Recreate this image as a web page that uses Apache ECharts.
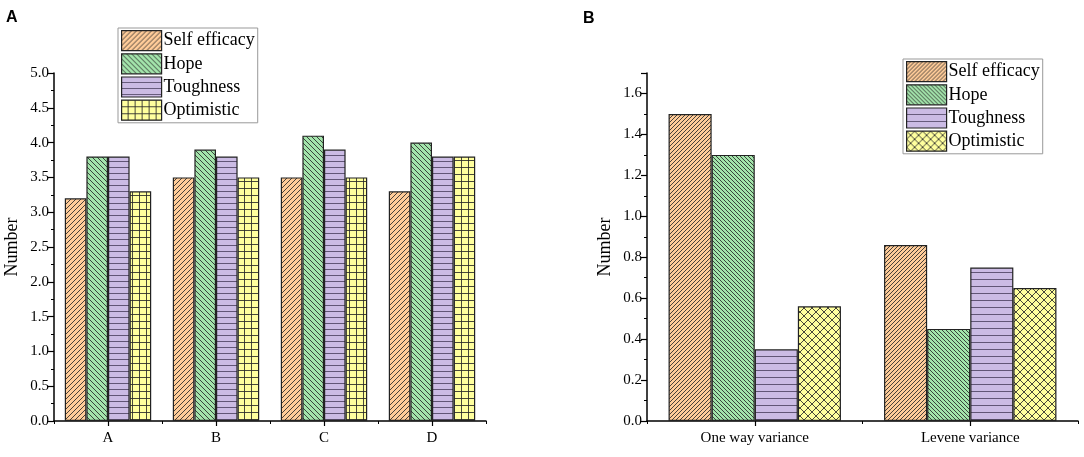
<!DOCTYPE html>
<html><head><meta charset="utf-8">
<script src="https://cdn.jsdelivr.net/npm/echarts@6/dist/echarts.min.js"></script>
<style>html,body{margin:0;padding:0;background:#fff}#c{width:1084px;height:457px}</style>
</head><body><div id="c"></div>
<script>
const seriesNames = ['Self efficacy', 'Hope', 'Toughness', 'Optimistic'];
const catsA = ['A', 'B', 'C', 'D'];
const selfA = [3.2, 3.5, 3.5, 3.3];
const hopeA = [3.8, 3.9, 4.1, 4.0];
const toughA = [3.8, 3.8, 3.9, 3.8];
const optA = [3.3, 3.5, 3.5, 3.8];
const catsB = ['One way variance', 'Levene variance'];
const selfB = [1.5, 0.86];
const hopeB = [1.3, 0.45];
const toughB = [0.35, 0.75];
const optB = [0.56, 0.65];
const ticksA = [0, 0.5, 1.0, 1.5, 2.0, 2.5, 3.0, 3.5, 4.0, 4.5, 5.0];
const ticksB = [0, 0.2, 0.4, 0.6, 0.8, 1.0, 1.2, 1.4, 1.6];

function tile(bg, s, draw) {
  const c = document.createElement('canvas');
  c.width = s; c.height = s;
  const g = c.getContext('2d');
  g.fillStyle = bg; g.fillRect(0, 0, s, s);
  g.strokeStyle = 'rgba(40,40,40,0.85)'; g.lineWidth = 1;
  draw(g, s);
  return { image: c, repeat: 'repeat' };
}
const fwd = (g, s) => { g.beginPath(); g.moveTo(-1, s + 1); g.lineTo(s + 1, -1); g.moveTo(-1, 1); g.lineTo(1, -1); g.moveTo(s - 1, s + 1); g.lineTo(s + 1, s - 1); g.stroke(); };
const back = (g, s) => { g.beginPath(); g.moveTo(-1, -1); g.lineTo(s + 1, s + 1); g.moveTo(s - 1, -1); g.lineTo(s + 1, 1); g.moveTo(-1, s - 1); g.lineTo(1, s + 1); g.stroke(); };
const horiz = (g, s) => { g.strokeStyle = 'rgba(70,60,90,0.8)'; g.beginPath(); g.moveTo(0, s - 0.5); g.lineTo(s, s - 0.5); g.stroke(); };
const grid = (g, s) => { g.beginPath(); g.moveTo(0, s - 0.5); g.lineTo(s, s - 0.5); g.moveTo(s - 0.5, 0); g.lineTo(s - 0.5, s); g.stroke(); };
const cross = (g, s) => { fwd(g, s); back(g, s); };

const OR = '#FFCC99', GR = '#A3E4AB', PU = '#CBBBE4', YE = '#FFFF9E';
const patA = [tile(OR, 5, fwd), tile(GR, 5, back), tile(PU, 6, horiz), tile(YE, 7, grid)];
const patB = [tile(OR, 4, fwd), tile(GR, 4, back), tile(PU, 7, horiz), tile(YE, 8, cross)];

const serif = 'Liberation Serif, Times New Roman, serif';
const chart = echarts.init(document.getElementById('c'));

function mkSeries(data, pats, xi) {
  return data.map((d, i) => ({
    type: 'bar', name: seriesNames[i], data: d, xAxisIndex: xi, yAxisIndex: xi,
    barGap: '0%', barCategoryGap: '20%',
    itemStyle: { color: pats[i], borderColor: '#222', borderWidth: 1.2 },
    emphasis: { disabled: true }
  }));
}
function legend(pats, left, top) {
  return {
    orient: 'vertical', left: left, top: top, itemWidth: 40, itemHeight: 20, itemGap: 2,
    padding: [2, 3, 2, 3], borderColor: '#999', borderWidth: 1, backgroundColor: '#fff',
    textStyle: { fontFamily: serif, fontSize: 18, color: '#000', padding: [0, 0, 0, -3] },
    selectedMode: false, icon: 'rect',
    data: seriesNames.map((n, i) => ({ name: n, itemStyle: { color: pats[i], borderColor: '#222', borderWidth: 1.2 } }))
  };
}
function yAx(gi, max, interval, ticks) {
  return {
    type: 'value', gridIndex: gi, min: 0, max: max, interval: interval,
    name: 'Number', nameLocation: 'middle', nameRotate: 90, nameGap: 33,
    nameTextStyle: { fontFamily: serif, fontSize: 18, color: '#000' },
    axisLine: { show: true, lineStyle: { color: '#000', width: 1.5 } },
    axisTick: { show: true, length: 6, lineStyle: { color: '#000', width: 1.2 } },
    minorTick: { show: true, splitNumber: 2, length: 3, lineStyle: { color: '#000', width: 1 } },
    splitLine: { show: false },
    axisLabel: { fontFamily: serif, fontSize: 15, color: '#000', margin: 5,
      formatter: v => ticks.some(t => Math.abs(t - v) < 1e-9) ? v.toFixed(1) : '' }
  };
}
function xAx(gi, cats) {
  return {
    type: 'category', gridIndex: gi, data: cats, position: 'bottom',
    axisLine: { show: true, lineStyle: { color: '#000', width: 1.5 } },
    axisTick: { show: true, alignWithLabel: true, length: 5, lineStyle: { color: '#000', width: 1.2 } },
    axisLabel: { fontFamily: serif, fontSize: 15, color: '#000', margin: 10 }
  };
}
function xAx2(gi, cats) {
  return {
    type: 'category', gridIndex: gi, data: cats, position: 'bottom',
    axisLine: { show: false }, axisLabel: { show: false },
    axisTick: { show: true, alignWithLabel: false, length: 3, lineStyle: { color: '#000', width: 1 } }
  };
}

chart.setOption({
  animation: false,
  grid: [
    { left: 54, right: 598, top: 73, bottom: 36 },
    { left: 647, right: 6, top: 73, bottom: 36 }
  ],
  xAxis: [xAx(0, catsA), xAx(1, catsB), xAx2(0, catsA), xAx2(1, catsB)],
  yAxis: [yAx(0, 5.0, 0.5, ticksA), yAx(1, 1.7, 0.2, ticksB)],
  legend: [legend(patA, 118, 28), legend(patB, 903, 59)],
  series: [...mkSeries([selfA, hopeA, toughA, optA], patA, 0), ...mkSeries([selfB, hopeB, toughB, optB], patB, 1)],
  graphic: [
    { type: 'text', left: 6, top: 10, style: { text: 'A', font: 'bold 16px Liberation Sans, Arial, sans-serif', fill: '#000' } },
    { type: 'text', left: 583, top: 11, style: { text: 'B', font: 'bold 16px Liberation Sans, Arial, sans-serif', fill: '#000' } }
  ]
});
</script></body></html>
